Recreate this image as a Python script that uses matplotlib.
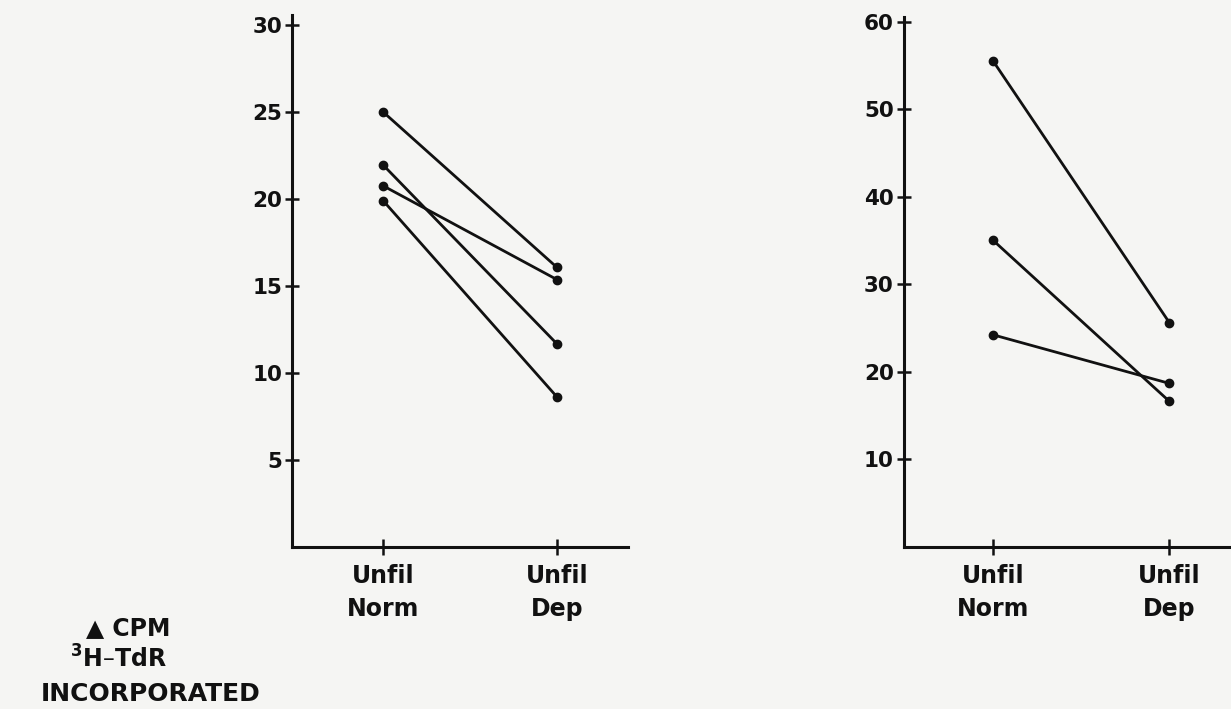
import numpy as np
import matplotlib
matplotlib.use("Agg")
import matplotlib.pyplot as plt

# data
categories = ["Unfil\nNorm", "Unfil\nDep"]

left_norm = [25.0, 20.75, 21.95, 19.9]
left_dep = [16.05, 15.35, 11.65, 8.6]
left_ticks = [5, 10, 15, 20, 25, 30]

right_norm = [55.5, 35.0, 24.2]
right_dep = [25.6, 16.6, 18.65]
right_ticks = [10, 20, 30, 40, 50, 60]

ink = "#111111"
paper = "#f5f5f3"

fig = plt.figure(figsize=(12.31, 7.09), dpi=100)
fig.patch.set_facecolor(paper)


def panel(rect, norm, dep, yticks, xlim, ylim):
    ax = fig.add_axes(rect)
    ax.set_facecolor(paper)
    x = np.arange(len(categories))
    for a, b in zip(norm, dep):
        ax.plot(x, [a, b], color=ink, lw=2.0, marker="o", ms=6,
                solid_capstyle="round", clip_on=False)
    ax.set_xlim(*xlim); ax.set_ylim(*ylim)
    for s in ("top", "right"):
        ax.spines[s].set_visible(False)
    for s in ("left", "bottom"):
        ax.spines[s].set_linewidth(2.2); ax.spines[s].set_color(ink)
    ax.set_yticks(yticks)
    ax.set_yticklabels([str(t) for t in yticks], fontfamily="DejaVu Sans",
                       fontweight="bold", fontsize=15.5, color=ink)
    ax.set_xticks(x)
    ax.set_xticklabels(categories, fontfamily="DejaVu Sans",
                       fontweight="bold", fontsize=17, color=ink,
                       linespacing=1.5)
    ax.tick_params(axis="y", direction="inout", length=10, width=1.8,
                   pad=2, color=ink)
    ax.tick_params(axis="x", direction="inout", length=11, width=1.8,
                   pad=7, color=ink)
    return ax


panel([292 / 1231, 1 - 546.5 / 709, 336 / 1231, 531.5 / 709],
      left_norm, left_dep, left_ticks, (-0.523, 1.408), (0, 30.57))
panel([903.5 / 1231, 1 - 546.5 / 709, 327.5 / 1231, 530 / 709],
      right_norm, right_dep, right_ticks, (-0.509, 1.35), (0, 60.6))

fig.text(128 / 1231, 1 - 628 / 709, "\u25b2 CPM", ha="center", va="center",
         fontfamily="DejaVu Sans", fontweight="bold", fontsize=17, color=ink)
fig.text(118 / 1231, 1 - 659 / 709, r"$^{\mathbf{3}}$H" + "\u2013TdR",
         ha="center", va="center",
         fontfamily="DejaVu Sans", fontweight="bold", fontsize=17, color=ink)
fig.text(151 / 1231, 1 - 694 / 709, "INCORPORATED", ha="center", va="center",
         fontfamily="DejaVu Sans", fontweight="bold", fontsize=18, color=ink)

fig.savefig("out.png", dpi=100, facecolor=paper)
